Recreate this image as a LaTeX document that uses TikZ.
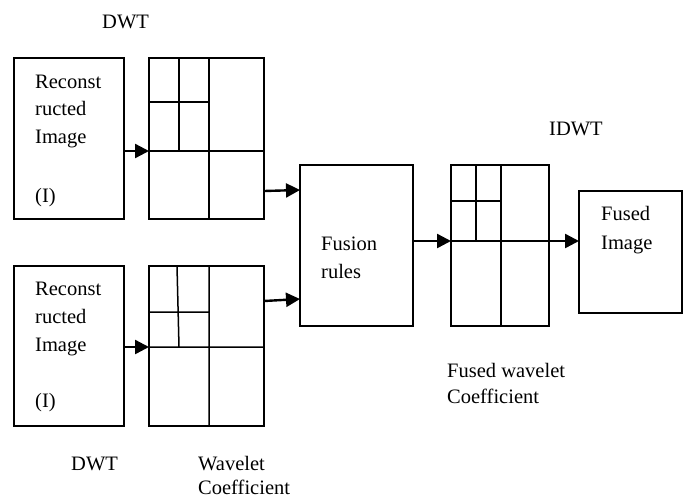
\documentclass[tikz,border=0pt]{standalone}
\usepackage{fontspec}
\setmainfont{Liberation Serif}
\usetikzlibrary{arrows.meta}
\begin{document}
\begin{tikzpicture}[x=1pt,y=-1pt,
  box/.style={draw,line width=1.5pt,inner sep=0pt,outer sep=0pt},
  gridline/.style={line width=1.5pt},
  arr/.style={line width=2.4pt,-{Triangle[length=14pt,width=14pt]}},
  txt/.style={anchor=base west,inner sep=0pt,font=\fontsize{20.5}{25}\selectfont}]
\useasboundingbox (0,0) rectangle (684,499);
\fill[white] (0,0) rectangle (684,499);
% boxes
\node[box,minimum width=110pt,minimum height=161pt] (b1) at (69,138.5) {};
\node[box,minimum width=115pt,minimum height=161pt] (g1) at (206.5,138.5) {};
\node[box,minimum width=110pt,minimum height=160pt] (b2) at (69,346) {};
\node[box,minimum width=115pt,minimum height=160pt] (g2) at (206.5,346) {};
\node[box,minimum width=113pt,minimum height=161pt] (fus) at (356.5,245.5) {};
\node[box,minimum width=98pt,minimum height=161pt] (g3) at (500,245.5) {};
\node[box,minimum width=103pt,minimum height=122pt] (img) at (630.5,252) {};
% grid subdivisions
\draw[gridline] (179,58) -- (179,151) (209,58) -- (209,219)
  (149,102) -- (209,102) (149,151) -- (264,151);
\draw[gridline] (177,266) -- (179,347) (209,266) -- (209,426)
  (149,312) -- (209,312) (149,347) -- (264,347);
\draw[gridline] (476,165) -- (476,241) (501,165) -- (501,326)
  (451,201) -- (501,201) (451,241) -- (549,241);
% arrows
\coordinate (y1) at (0,151);
\coordinate (y2a) at (0,191);
\coordinate (y2b) at (0,190);
\coordinate (y3) at (0,347);
\coordinate (y4a) at (0,301);
\coordinate (y4b) at (0,299);
\coordinate (y5) at (0,241);
\draw[arr] (b1.east |- y1) -- (g1.west |- y1);
\draw[arr] (g1.east |- y2a) -- (fus.west |- y2b);
\draw[arr] (b2.east |- y3) -- (g2.west |- y3);
\draw[arr] (g2.east |- y4a) -- (fus.west |- y4b);
\draw[arr] (fus.east |- y5) -- (g3.west |- y5);
\draw[arr] (g3.east |- y5) -- (img.west |- y5);
% texts
\node[txt] (t1) at (102,28) {DWT};
\node[txt] (r1a) at (35,88) {Reconst};
\node[txt] (r1b) at (35,115.5) {ructed};
\node[txt] (r1c) at (35,143) {Image};
\node[txt] (r1d) at (35,202) {(I)};
\node[txt] (r2a) at (35,295) {Reconst};
\node[txt] (r2b) at (35,323) {ructed};
\node[txt] (r2c) at (35,351) {Image};
\node[txt] (r2d) at (35,407) {(I)};
\node[txt] (f1) at (321,250) {Fusion};
\node[txt] (f2) at (321,278) {rules};
\node[txt] (i0) at (549,135) {IDWT};
\node[txt] (i1) at (601,220) {Fused};
\node[txt] (i2) at (601,249) {Image};
\node[txt] (d2) at (71,470) {DWT};
\node[txt] (w1) at (198,470) {Wavelet};
\node[txt] (w2) at (198,494) {Coefficient};
\node[txt] (fw1) at (447,377) {Fused wavelet};
\begin{scope}
\clip (440,380) rectangle (600,405);
\node[txt] (fw2) at (447,403) {Coefficient};
\end{scope}
\end{tikzpicture}
\end{document}
